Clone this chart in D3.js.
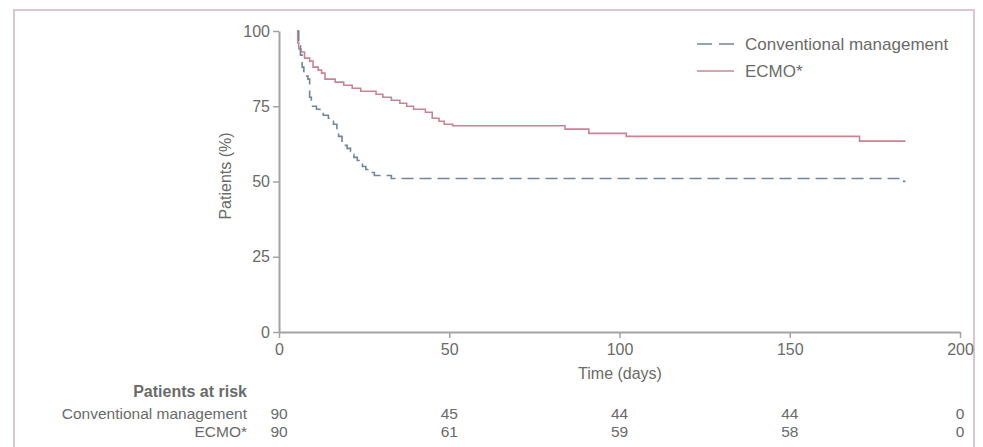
<!DOCTYPE html>
<html>
<head>
<meta charset="utf-8">
<script src="https://cdn.jsdelivr.net/npm/d3@7/dist/d3.min.js"></script>
<style>
  html, body { margin: 0; padding: 0; background: #ffffff; }
  svg { display: block; }
  text { font-family: "Liberation Sans", Arial, sans-serif; fill: #6a6a6a; }
</style>
</head>
<body>
<script>
// ---- Data ----
const convTimes = [5.3, 5.8, 6.3, 6.8, 7.3, 8.5, 9, 9.5, 11, 12, 13, 14.5, 15.5, 16, 17, 17.5, 18.5, 19, 20, 21, 21.5, 22, 23, 23.5, 24.5, 25.5, 26.5, 28, 33, 183.5, 184];
const convValues = [100, 95, 92, 88, 85, 84, 78, 75, 74, 73, 72, 71, 70, 69, 67, 65, 63, 62, 61, 60, 59, 58, 57, 56, 55, 54, 53, 52, 51, 50, 50];

const ecmoTimes = [5.3, 5.5, 5.8, 6.5, 7.5, 9, 10, 11.5, 12.5, 13.5, 16.5, 19, 21.5, 24, 28.5, 30.5, 33, 35.5, 37.5, 39.5, 43, 45, 47, 48.5, 51, 84, 91, 102, 170.5, 184];
const ecmoValues = [100, 96, 94, 93, 91, 90, 88, 87, 86, 84, 83, 82, 81, 80, 79, 78, 77, 76, 75, 74, 73, 71, 70, 69, 68.5, 67.4, 66, 65, 63.4, 63.4];

const xTicks = [0, 50, 100, 150, 200];
const yTicks = [0, 25, 50, 75, 100];
const seriesNames = ["Conventional management", "ECMO*"];
const riskTimes = [0, 50, 100, 150, 200];
const riskConv = [90, 45, 44, 44, 0];
const riskEcmo = [90, 61, 59, 58, 0];

// ---- Drawing ----
const W = 983, H = 447;
const svg = d3.select("body").append("svg").attr("width", W).attr("height", H);

// frame
svg.append("rect").attr("x", 14).attr("y", 10).attr("width", 960).attr("height", 460)
  .attr("fill", "none").attr("stroke", "#dac7d1").attr("stroke-width", 2);

const x = d3.scaleLinear().domain([0, 200]).range([279, 960]);
const y = d3.scaleLinear().domain([0, 100]).range([332, 31]);

const axisColor = "#a3a3a3";

const yAxis = svg.append("g").attr("transform", "translate(279,0)")
  .call(d3.axisLeft(y).tickValues(yTicks).tickSize(6).tickSizeOuter(0).tickPadding(3));
const xAxis = svg.append("g").attr("transform", "translate(0,332)")
  .call(d3.axisBottom(x).tickValues(xTicks).tickSize(6).tickSizeOuter(0).tickPadding(6));

[yAxis, xAxis].forEach(g => {
  g.select(".domain").attr("stroke", axisColor).attr("stroke-width", 2);
  g.selectAll(".tick line").attr("stroke", axisColor).attr("stroke-width", 1.5);
  g.selectAll(".tick text").attr("fill", "#6a6a6a").style("font-size", "16px")
    .style("font-family", "'Liberation Sans', Arial, sans-serif");
});

// axis titles
svg.append("text").attr("transform", "translate(231,176) rotate(-90)")
  .attr("text-anchor", "middle").style("font-size", "16px").text("Patients (%)");
svg.append("text").attr("x", 620).attr("y", 379)
  .attr("text-anchor", "middle").style("font-size", "16px").text("Time (days)");

// curves
const line = d3.line().x(d => x(d[0])).y(d => y(d[1])).curve(d3.curveStepAfter);
const convData = convTimes.map((t, i) => [t, convValues[i]]);
const ecmoData = ecmoTimes.map((t, i) => [t, ecmoValues[i]]);

const convColor = "#71869c";
const ecmoColor = "#c98494";

svg.append("path").datum(ecmoData).attr("d", line)
  .attr("fill", "none").attr("stroke", ecmoColor).attr("stroke-width", 1.6);
svg.append("path").datum(convData).attr("d", line)
  .attr("fill", "none").attr("stroke", convColor).attr("stroke-width", 1.6)
  .attr("stroke-dasharray", "12,6");

// legend
const legend = svg.append("g");
const legendItems = [
  { name: seriesNames[0], color: convColor, dash: "15,7", yy: 44 },
  { name: seriesNames[1], color: ecmoColor, dash: null, yy: 71 }
];
legendItems.forEach(it => {
  legend.append("line").attr("x1", 697).attr("x2", 734).attr("y1", it.yy).attr("y2", it.yy)
    .attr("stroke", it.color).attr("stroke-width", 1.6)
    .attr("stroke-dasharray", it.dash);
  legend.append("text").attr("x", 745).attr("y", it.yy + 6)
    .style("font-size", "17px").text(it.name);
});

// patients at risk
svg.append("text").attr("x", 247).attr("y", 397).attr("text-anchor", "end")
  .style("font-size", "16px").style("font-weight", "bold").attr("fill", "#555")
  .text("Patients at risk");
const rows = [
  { name: seriesNames[0], vals: riskConv, yy: 419 },
  { name: seriesNames[1], vals: riskEcmo, yy: 437 }
];
rows.forEach(r => {
  svg.append("text").attr("x", 247).attr("y", r.yy).attr("text-anchor", "end")
    .style("font-size", "15.5px").text(r.name);
  svg.selectAll(null).data(riskTimes).enter().append("text")
    .attr("x", d => x(d)).attr("y", r.yy).attr("text-anchor", "middle")
    .style("font-size", "15.5px").text((d, i) => r.vals[i]);
});
</script>
</body>
</html>
